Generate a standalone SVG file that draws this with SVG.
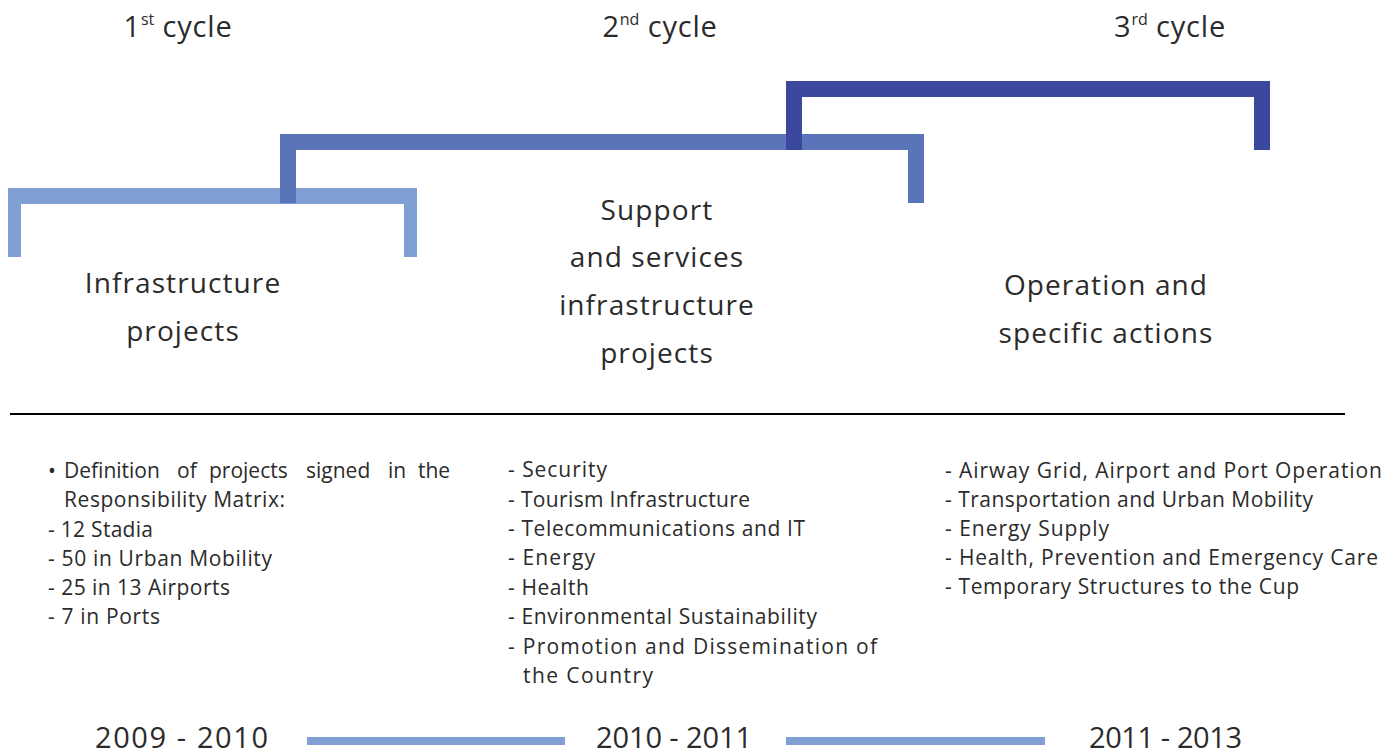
<svg xmlns="http://www.w3.org/2000/svg" width="1400" height="755" viewBox="0 0 1400 755">
<style>
.hd{font-family:"Open Sans","Liberation Sans",sans-serif;font-size:29px;fill:#2b2b2b;text-anchor:middle;letter-spacing:0.8px}
.sup{font-size:16px;letter-spacing:0}
.lb{font-family:"Open Sans","Liberation Sans",sans-serif;font-size:28px;fill:#2b2b2b;text-anchor:middle;letter-spacing:1.1px}
.li{font-family:"Open Sans","Liberation Sans",sans-serif;font-size:21px;fill:#2b2b2b}
.yr{font-family:"Open Sans","Liberation Sans",sans-serif;font-size:29px;fill:#2b2b2b}
.c1{fill:#80A0D5}
.c2{fill:#5A74B9}
.c3{fill:#3C479E}
</style>
<g id="headers">
<text class="hd" x="178" y="37">1<tspan class="sup" dy="-12">st</tspan><tspan dy="12"> cycle</tspan></text>
<text class="hd" x="660" y="37">2<tspan class="sup" dy="-12">nd</tspan><tspan dy="12"> cycle</tspan></text>
<text class="hd" x="1170" y="37">3<tspan class="sup" dy="-12">rd</tspan><tspan dy="12"> cycle</tspan></text>
</g>
<g id="connectors">
<g id="bracket1">
<rect class="c1" x="8" y="188" width="409" height="16"/>
<rect class="c1" x="8" y="188" width="13" height="69"/>
<rect class="c1" x="404" y="188" width="13" height="69"/>
</g>
<g id="bracket2">
<rect class="c2" x="280" y="134" width="644" height="16"/>
<rect class="c2" x="280" y="134" width="16" height="69"/>
<rect class="c2" x="908" y="134" width="16" height="69"/>
</g>
<g id="bracket3">
<rect class="c3" x="786" y="81" width="484" height="16"/>
<rect class="c3" x="786" y="81" width="16" height="69"/>
<rect class="c3" x="1254" y="81" width="16" height="69"/>
</g>
<line x1="10" y1="414" x2="1345" y2="414" stroke="#000" stroke-width="2"/>
<rect class="c1" x="307" y="737" width="258" height="8"/>
<rect class="c1" x="786" y="737" width="259" height="8"/>
</g>
<g id="node1">
<text class="lb" x="183" y="293">Infrastructure</text>
<text class="lb" x="183" y="341">projects</text>
</g>
<g id="node2">
<text class="lb" x="657" y="220">Support</text>
<text class="lb" x="657" y="267">and services</text>
<text class="lb" x="657" y="315">infrastructure</text>
<text class="lb" x="657" y="363">projects</text>
</g>
<g id="node3">
<text class="lb" x="1106" y="295">Operation and</text>
<text class="lb" x="1106" y="343">specific actions</text>
</g>
<g id="list1">
<text class="li" x="48" y="478">•</text>
<text class="li" y="478"><tspan x="64">Definition</tspan><tspan x="177">of</tspan><tspan x="209">projects</tspan><tspan x="306">signed</tspan><tspan x="388">in</tspan><tspan x="418" textLength="32" lengthAdjust="spacing">the</tspan></text>
<text class="li" x="64" y="507" textLength="221" lengthAdjust="spacing">Responsibility Matrix:</text>
<text class="li" x="48" y="537" textLength="105" lengthAdjust="spacing">- 12 Stadia</text>
<text class="li" x="48" y="566" textLength="224" lengthAdjust="spacing">- 50 in Urban Mobility</text>
<text class="li" x="48" y="595" textLength="182" lengthAdjust="spacing">- 25 in 13 Airports</text>
<text class="li" x="48" y="624" textLength="112" lengthAdjust="spacing">- 7 in Ports</text>
</g>
<g id="list2">
<text class="li" x="508" y="477" textLength="99" lengthAdjust="spacing">- Security</text>
<text class="li" x="508" y="507" textLength="242" lengthAdjust="spacing">- Tourism Infrastructure</text>
<text class="li" x="508" y="536" textLength="297" lengthAdjust="spacing">- Telecommunications and IT</text>
<text class="li" x="508" y="565" textLength="87" lengthAdjust="spacing">- Energy</text>
<text class="li" x="508" y="595" textLength="81" lengthAdjust="spacing">- Health</text>
<text class="li" x="508" y="624" textLength="309" lengthAdjust="spacing">- Environmental Sustainability</text>
<text class="li" x="508" y="654" textLength="369" lengthAdjust="spacing">- Promotion and Dissemination of</text>
<text class="li" x="523" y="683" textLength="130" lengthAdjust="spacing">the Country</text>
</g>
<g id="list3">
<text class="li" x="945" y="478" textLength="437" lengthAdjust="spacing">- Airway Grid, Airport and Port Operation</text>
<text class="li" x="945" y="507" textLength="368" lengthAdjust="spacing">- Transportation and Urban Mobility</text>
<text class="li" x="945" y="536" textLength="164" lengthAdjust="spacing">- Energy Supply</text>
<text class="li" x="945" y="565" textLength="433" lengthAdjust="spacing">- Health, Prevention and Emergency Care</text>
<text class="li" x="945" y="594" textLength="354" lengthAdjust="spacing">- Temporary Structures to the Cup</text>
</g>
<g id="years">
<text class="yr" x="95" y="748" textLength="173" lengthAdjust="spacing">2009 - 2010</text>
<text class="yr" x="596" y="748" textLength="156" lengthAdjust="spacing">2010 - 2011</text>
<text class="yr" x="1089" y="748" textLength="153" lengthAdjust="spacing">2011 - 2013</text>
</g>
</svg>
